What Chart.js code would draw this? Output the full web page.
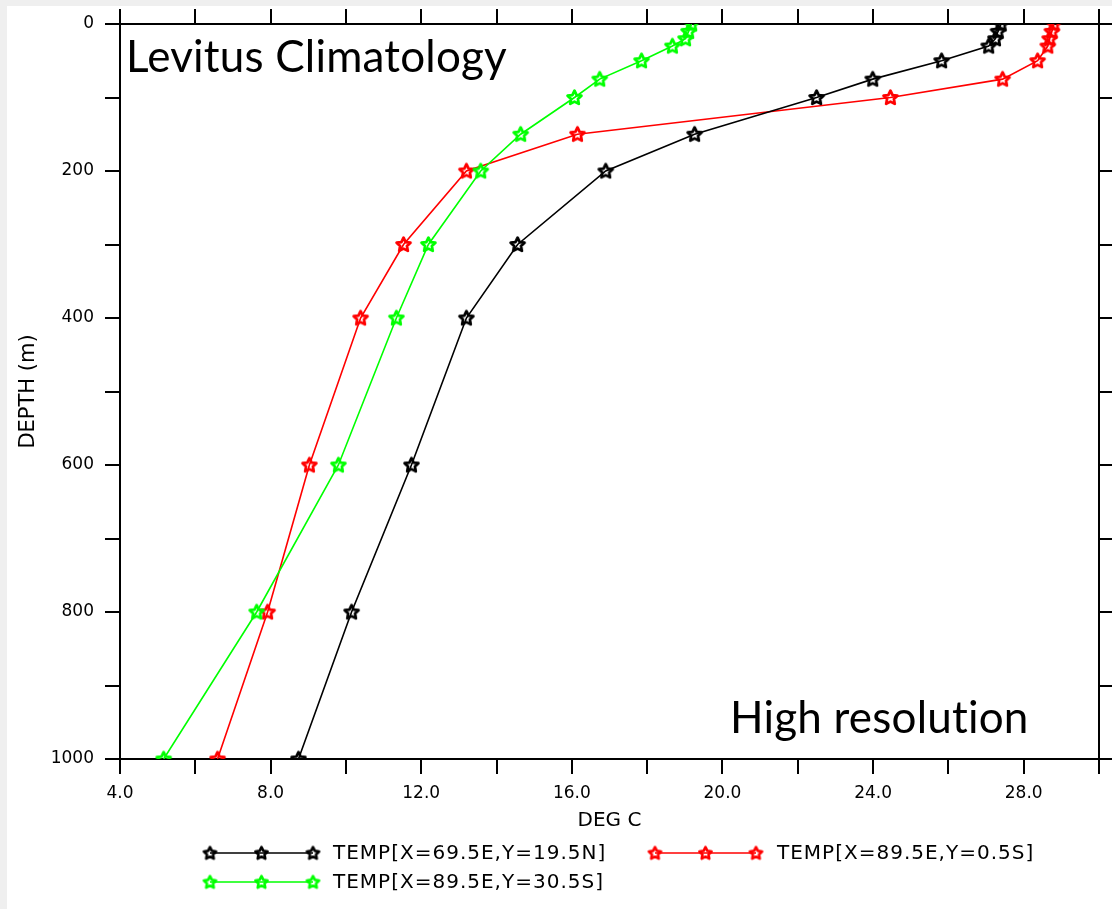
<!DOCTYPE html>
<html><head><meta charset="utf-8">
<script src="https://cdn.jsdelivr.net/npm/chart.js@4.4.1/dist/chart.umd.min.js"></script>
<style>html,body{margin:0;padding:0;background:#fff;}canvas{display:block;}</style>
</head><body>
<canvas id="c" width="1112" height="909" style="width:1112px;height:909px"></canvas>
<script>
// ---- data ----
const depths = [0, 10, 20, 30, 50, 75, 100, 150, 200, 300, 400, 600, 800, 1000];
const tempBlack = [27.40, 27.32, 27.25, 27.07, 25.82, 23.99, 22.50, 19.26, 16.90, 14.56, 13.20, 11.74, 10.15, 8.74];
const tempRed   = [28.80, 28.75, 28.69, 28.64, 28.37, 27.44, 24.46, 16.15, 13.20, 11.53, 10.39, 9.03, 7.92, 6.59];
const tempGreen = [19.18, 19.10, 19.02, 18.67, 17.85, 16.74, 16.07, 14.64, 13.58, 12.19, 11.34, 9.80, 7.63, 5.16];
const seriesLabels = ['TEMP[X=69.5E,Y=19.5N]', 'TEMP[X=89.5E,Y=0.5S]', 'TEMP[X=89.5E,Y=30.5S]'];
const xRange = [4, 30];
const yRange = [0, 1000];
const xTitle = 'DEG C';
const yTitle = 'DEPTH (m)';
const noteTop = 'Levitus Climatology';
const noteBottom = 'High resolution';

// ---- styling ----
const COLORS = ['#000000', '#ff0000', '#00ff00'];
function makeStar(color, size, lw) {
  const c = document.createElement('canvas');
  c.width = size; c.height = size;
  const g = c.getContext('2d');
  const cx = size / 2, cy = size / 2 + 0.5, R = size / 2 - lw * 0.8, r = R * 0.5;
  g.beginPath();
  for (let i = 0; i < 10; i++) {
    const a = -Math.PI / 2 + i * Math.PI / 5;
    const rad = i % 2 ? r : R;
    g.lineTo(cx + rad * Math.cos(a), cy + rad * Math.sin(a));
  }
  g.closePath();
  g.strokeStyle = color; g.lineWidth = lw; g.lineJoin = 'round';
  g.stroke();
  return c;
}
const stars = COLORS.map(c => makeStar(c, 19, 2.8));
const legendStars = COLORS.map(c => makeStar(c, 17, 2.6));

const TICKFONT = {family: 'DejaVu Sans', size: 17};
const TITLEFONT = {family: 'DejaVu Sans', size: 20};

function mk(temps, i) {
  return {
    label: seriesLabels[i],
    data: depths.map((d, k) => ({x: temps[k], y: d})),
    showLine: true,
    borderColor: COLORS[i],
    backgroundColor: COLORS[i],
    borderWidth: 1.6,
    pointStyle: stars[i],
    pointRadius: 7,
    clip: 0,
    xAxisID: 'x', yAxisID: 'y'
  };
}
// draw order: green, black, red
const datasets = [mk(tempGreen, 2), mk(tempBlack, 0), mk(tempRed, 1)];

const axisGrid = {drawOnChartArea: false, drawTicks: true, tickLength: 15, color: '#000', lineWidth: 2};
const axisBorder = {display: true, color: '#000', width: 2};

const decor = {
  id: 'decor',
  beforeDraw(chart) {
    const ctx = chart.ctx;
    ctx.save();
    ctx.fillStyle = '#efefef';
    ctx.fillRect(0, 0, chart.width, chart.height);
    ctx.fillStyle = '#ffffff';
    ctx.fillRect(7, 6, chart.width - 7, chart.height - 6);
    ctx.restore();
  },
  afterDraw(chart) {
    const ctx = chart.ctx;
    ctx.save();
    // annotations
    ctx.fillStyle = '#000';
    ctx.font = '44px Lato';
    try { ctx.letterSpacing = '0.2px'; } catch (e) {}
    ctx.textBaseline = 'alphabetic';
    ctx.textAlign = 'left';
    ctx.fillText(noteTop, 126, 72);
    ctx.fillText(noteBottom, 730, 733);
    // legend
    const rows = [
      {ds: 0, y: 853, x0: 210, x1: 313, tx: 333},
      {ds: 1, y: 853, x0: 655, x1: 756, tx: 777},
      {ds: 2, y: 882, x0: 210, x1: 313, tx: 333}
    ];
    ctx.font = '20px "DejaVu Sans"';
    try { ctx.letterSpacing = '1px'; } catch (e) {}
    ctx.textBaseline = 'middle';
    rows.forEach(r => {
      ctx.strokeStyle = COLORS[r.ds];
      ctx.lineWidth = 1.6;
      ctx.beginPath(); ctx.moveTo(r.x0, r.y); ctx.lineTo(r.x1, r.y); ctx.stroke();
      const img = legendStars[r.ds];
      [r.x0, (r.x0 + r.x1) / 2, r.x1].forEach(px => {
        ctx.drawImage(img, px - img.width / 2, r.y - img.height / 2);
      });
      ctx.fillStyle = '#000';
      ctx.fillText(seriesLabels[r.ds], r.tx, r.y + 1);
    });
    ctx.restore();
  }
};

new Chart(document.getElementById('c'), {
  type: 'scatter',
  data: {datasets},
  options: {
    responsive: false,
    animation: false,
    devicePixelRatio: 1,
    layout: {padding: 0, autoPadding: false},
    plugins: {legend: {display: false}, tooltip: {enabled: false}},
    scales: {
      x: {
        type: 'linear', position: 'bottom', min: xRange[0], max: xRange[1],
        ticks: {stepSize: 2, autoSkip: false, maxRotation: 0, padding: 9, color: '#000', font: TICKFONT,
                callback: v => (v % 4 === 0 ? v.toFixed(1) : '')},
        grid: axisGrid, border: axisBorder,
        title: {display: true, text: xTitle, color: '#000', font: TITLEFONT, padding: {top: 0, bottom: 76}},
        afterFit: s => { s.height = 150; }
      },
      x2: {
        type: 'linear', position: 'top', min: xRange[0], max: xRange[1],
        ticks: {display: false, stepSize: 2, autoSkip: false},
        grid: axisGrid, border: axisBorder,
        afterFit: s => { s.height = 24; }
      },
      y: {
        type: 'linear', position: 'left', reverse: true, min: yRange[0], max: yRange[1],
        ticks: {stepSize: 100, autoSkip: false, padding: 11, color: '#000', font: TICKFONT,
                callback: v => (v % 200 === 0 ? String(v) : '')},
        grid: axisGrid, border: axisBorder,
        title: {display: true, text: yTitle, color: '#000', font: {family: 'DejaVu Sans', size: 21}, padding: {top: 16, bottom: 0}},
        afterFit: s => { s.width = 120; }
      },
      y2: {
        type: 'linear', position: 'right', reverse: true, min: yRange[0], max: yRange[1],
        ticks: {display: false, stepSize: 100, autoSkip: false},
        grid: axisGrid, border: axisBorder,
        afterFit: s => { s.width = 13; }
      }
    }
  },
  plugins: [decor]
});
</script>
</body></html>
